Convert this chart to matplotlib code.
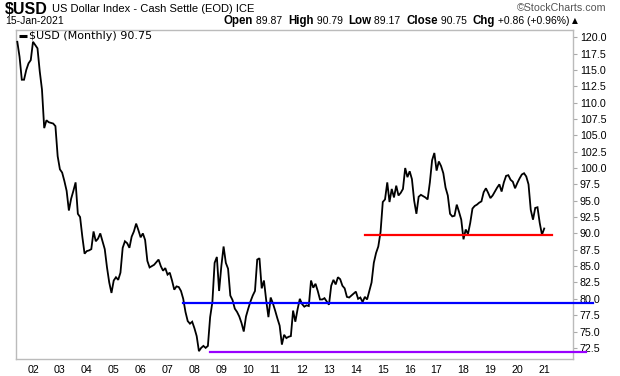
import matplotlib
matplotlib.use("Agg")
import matplotlib.pyplot as plt
import numpy as np

# ---- data (monthly closes, Jun 2001 .. Jan 2021) ----
start_year, start_month = 2001, 6
usd = [
    # 2001 Jun-Dec
    119.3, 117.0, 113.5, 113.5, 115.0, 116.0, 116.5,
    # 2002
    119.3, 118.8, 118.3, 114.8, 112.0, 106.1, 107.3, 107.0, 106.9, 106.8, 106.4, 101.8,
    # 2003
    99.8, 99.3, 98.0, 96.5, 93.5, 95.3, 96.5, 97.8, 93.0, 92.5, 89.5, 86.9,
    # 2004
    87.3, 87.4, 87.6, 90.3, 88.8, 89.2, 90.0, 88.8, 87.6, 84.8, 82.5, 80.9,
    # 2005
    82.8, 83.3, 82.9, 84.0, 87.8, 88.8, 88.5, 87.8, 89.5, 90.3, 91.5, 90.5,
    # 2006
    89.4, 90.0, 89.0, 85.8, 84.8, 85.0, 85.2, 85.6, 86.0, 85.0, 84.3, 84.7,
    # 2007
    83.7, 84.0, 82.8, 81.4, 81.9, 81.8, 81.2, 80.0, 78.0, 76.6, 76.2, 76.5,
    # 2008
    75.5, 74.3, 72.0, 72.5, 72.8, 72.5, 72.8, 77.2, 79.5, 85.5, 86.4, 81.2,
    # 2009
    85.0, 88.0, 85.5, 84.6, 80.5, 79.8, 78.5, 78.0, 77.3, 76.3, 75.0, 77.3,
    # 2010
    78.5, 79.6, 80.5, 81.2, 86.0, 86.2, 81.6, 82.8, 79.8, 77.2, 80.2, 79.3,
    # 2011
    78.2, 77.0, 75.9, 73.0, 74.5, 74.0, 74.2, 74.3, 78.2, 76.5, 78.4, 80.0,
    # 2012
    79.2, 78.8, 79.0, 78.9, 82.8, 81.7, 82.3, 81.2, 79.9, 79.9, 80.1, 79.6,
    # 2013
    79.1, 82.0, 82.9, 82.2, 83.3, 83.0, 82.0, 81.6, 80.3, 80.2, 80.5, 80.8,
    # 2014
    81.1, 80.0, 80.2, 79.5, 80.3, 79.9, 81.2, 82.5, 85.5, 87.0, 88.0, 90.2,
    # 2015
    94.8, 95.2, 97.8, 94.8, 96.8, 95.5, 97.3, 95.8, 96.2, 96.8, 100.0, 98.6,
    # 2016
    99.5, 98.3, 95.0, 93.0, 95.6, 95.9, 95.7, 95.5, 95.2, 97.8, 101.2, 102.3,
    # 2017
    99.6, 101.0, 100.3, 99.2, 97.0, 95.8, 93.0, 92.6, 92.7, 94.4, 93.3, 92.1,
    # 2018
    89.1, 90.6, 89.9, 91.6, 93.8, 94.2, 94.4, 94.7, 94.9, 96.3, 96.9, 96.2,
    # 2019
    95.4, 95.8, 96.4, 97.0, 97.5, 96.4, 97.8, 98.8, 98.9, 98.2, 97.9, 96.9,
    # 2020
    97.7, 98.4, 99.0, 99.2, 98.7, 97.5, 93.6, 92.1, 93.9, 94.0, 91.6, 89.8,
    # 2021 Jan
    90.75,
]
year_labels = ["02", "03", "04", "05", "06", "07", "08", "09", "10", "11",
               "12", "13", "14", "15", "16", "17", "18", "19", "20", "21"]
year_ticks = list(range(2002, 2022))
y_ticks = [72.5, 75.0, 77.5, 80.0, 82.5, 85.0, 87.5, 90.0, 92.5, 95.0,
           97.5, 100.0, 102.5, 105.0, 107.5, 110.0, 112.5, 115.0, 117.5, 120.0]

# horizontal support lines: (level, start, end)
red_level, red_start, red_end = 89.8, 2014.34, 2021.28
blue_level, blue_start, blue_end = 79.35, 2007.59, 2022.82
purple_level, purple_start, purple_end = 71.85, 2008.58, 2022.56

x = np.array([start_year + (start_month - 1 + i) / 12.0 for i in range(len(usd))])

W, H = 620, 376
fig = plt.figure(figsize=(W / 100, H / 100), dpi=100)
ax = fig.add_axes([16 / W, (H - 359) / H, (573 - 16) / W, (359 - 30) / H])

ax.plot(x, usd, color="black", lw=1.3, solid_joinstyle="miter", zorder=3)
ax.plot([red_start, red_end], [red_level, red_level], color="#ff0000", lw=1.6, zorder=4, clip_on=False)
ax.plot([blue_start, blue_end], [blue_level, blue_level], color="#0000ff", lw=1.6, zorder=4, clip_on=False)
ax.plot([purple_start, purple_end], [purple_level, purple_level], color="#9900ff", lw=1.6, zorder=4, clip_on=False)

ax.set_xlim(2001.368, 2022.07)
ax.set_ylim(70.8, 121.1)

ax.yaxis.tick_right()
ax.set_yticks(y_ticks)
ax.set_yticklabels([f"{v:.1f}" for v in y_ticks], fontsize=7.7, family=["Liberation Sans", "DejaVu Sans"])
ax.tick_params(axis="y", direction="out", length=3, width=0.8, color="#aaaaaa", pad=2)
ax.set_xticks(year_ticks)
ax.set_xticklabels(year_labels, fontsize=7.7, family=["Liberation Sans", "DejaVu Sans"])
ax.tick_params(axis="x", length=0, pad=4)
for s in ax.spines.values():
    s.set_color("#bbbbbb")
    s.set_linewidth(1.0)

# legend inside
ax.plot([0.0048, 0.0195], [0.982, 0.982], transform=ax.transAxes, color="black", lw=2.2, solid_capstyle="butt", clip_on=False)
ax.text(0.0225, 0.982, "$USD (Monthly) 90.75", transform=ax.transAxes, fontsize=8,
        family=["DejaVu Sans"], va="center", ha="left")

# header
def fx(px):
    return px / W
def fy(py):
    return 1 - py / H

fig.text(fx(5), fy(9), "$USD", fontsize=11.5, fontweight="bold", family=["Liberation Sans Narrow", "Liberation Sans", "DejaVu Sans"], va="center", ha="left")
fig.text(fx(52), fy(9.5), "US Dollar Index - Cash Settle (EOD) ICE", fontsize=8.0,
         family=["Liberation Sans Narrow", "Liberation Sans", "DejaVu Sans"], va="center", ha="left")
fig.text(fx(606), fy(8), "\u00a9StockCharts.com", fontsize=7.7, color="#555555",
         family=["Liberation Sans", "DejaVu Sans"], va="center", ha="right")
fig.text(fx(5), fy(21), "15-Jan-2021", fontsize=7.5, family=["Liberation Sans", "DejaVu Sans"], va="center", ha="left")

pieces = [("Open", True), (" 89.87  ", False), ("High", True), (" 90.79  ", False),
          ("Low", True), (" 89.17  ", False), ("Close", True), (" 90.75  ", False),
          ("Chg", True), (" +0.86 (+0.96%) ", False), ("\u25b2", False)]
fig.canvas.draw()
renderer = fig.canvas.get_renderer()
objs = []
cur = 0.0
for txt, bold in pieces:
    t = fig.text(0, fy(21), txt, fontsize=8.3 if bold else 7.5,
                 fontweight="bold" if bold else "normal",
                 family=["Liberation Sans", "DejaVu Sans"] if not txt.startswith("\u25b2") else ["DejaVu Sans"],
                 va="center", ha="left")
    if txt == "\u25b2":
        t.set_fontsize(5.5)
    bb = t.get_window_extent(renderer)
    objs.append((t, cur))
    cur += bb.width
right_edge = 578
start_px = right_edge - cur
for t, off in objs:
    t.set_x(fx(start_px + off))

fig.savefig("out.png", dpi=100)
